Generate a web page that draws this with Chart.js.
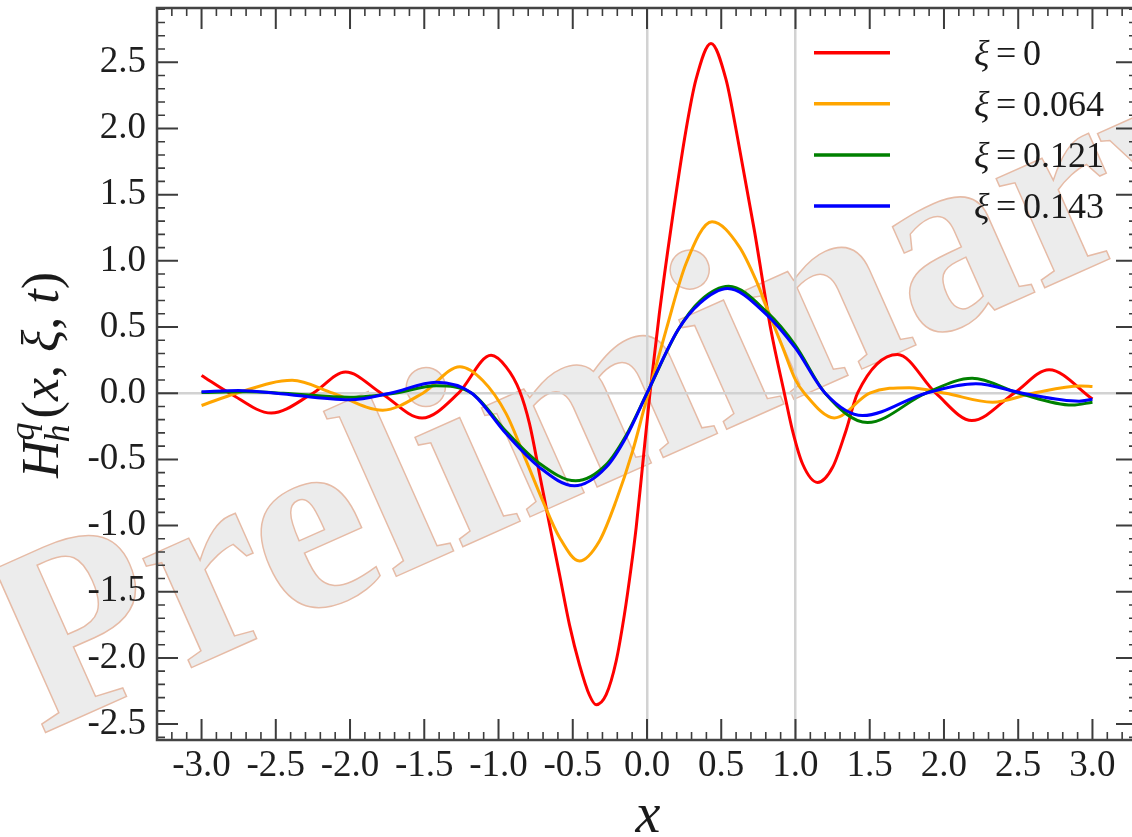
<!DOCTYPE html>
<html>
<head>
<meta charset="utf-8">
<script src="https://cdn.jsdelivr.net/npm/chart.js@4/dist/chart.umd.min.js"></script>
<style>
  html, body { margin: 0; padding: 0; overflow: hidden; background: #fff; }
  canvas { display: block; }
</style>
</head>
<body>
<canvas id="gpdChart" width="1140" height="837"></canvas>
<script>
// values, [x, H] pairs
const xi0 = [[-3.0,0.134],[-2.81,0],[-2.53,-0.15],[-2.25,0],[-2.03,0.16],[-1.79,0],[-1.515,-0.188],[-1.27,0],
  [-1.05,0.286],[-0.948,0.197],[-0.859,0.02],[-0.791,-0.232],[-0.724,-0.61],[-0.657,-0.99],[-0.589,-1.37],
  [-0.522,-1.75],[-0.455,-2.05],[-0.388,-2.28],[-0.343,-2.353],[-0.275,-2.277],[-0.208,-2.025],
  [-0.152,-1.671],[-0.107,-1.318],[-0.073,-1.015],[-0.04,-0.66],[0.02,0],[0.083,0.6],[0.162,1.25],
  [0.263,1.99],[0.33,2.37],[0.431,2.642],[0.532,2.37],[0.6,1.99],[0.723,1.23],[0.835,0.475],[0.925,0],
  [0.98,-0.283],[1.048,-0.535],[1.149,-0.674],[1.25,-0.56],[1.34,-0.283],[1.418,0],
  [1.687,0.293],[1.945,0],[2.188,-0.207],[2.472,0],[2.708,0.177],[3.0,-0.043]];
const xi064 = [[-3.0,-0.093],[-2.765,0],[-2.39,0.097],[-2.115,0],[-1.78,-0.128],[-1.51,0],[-1.26,0.2],
  [-1.106,0.096],[-0.948,-0.156],[-0.814,-0.51],[-0.702,-0.813],[-0.589,-1.09],[-0.455,-1.267],
  [-0.32,-1.116],[-0.208,-0.813],[-0.096,-0.434],[-0.017,-0.106],[0.128,0.475],[0.263,0.98],[0.438,1.295],
  [0.622,1.106],[0.734,0.854],[0.823,0.60],[0.913,0.348],[1.0,0.1],[1.06,0],[1.261,-0.187],[1.5,0],
  [1.766,0.042],[2.01,0],[2.326,-0.068],[2.6,0],[2.92,0.055],[3.0,0.05]];
const xi121 = [[-3.0,0.005],[-2.7,0.01],[-2.45,0],[-2.0,-0.03],[-1.7,0],[-1.42,0.056],[-1.18,0],[-0.948,-0.29],
  [-0.724,-0.53],[-0.48,-0.662],[-0.275,-0.54],[-0.141,-0.32],[0.0,0],[0.21,0.48],[0.36,0.70],[0.55,0.808],
  [0.81,0.61],[1.0,0.36],[1.2,0],[1.485,-0.222],[1.878,0],[2.19,0.113],[2.506,0],[2.865,-0.09],[3.0,-0.068]];
const xi143 = [[-3.0,0.01],[-2.75,0.02],[-2.5,0],[-2.0,-0.05],[-1.73,0],[-1.42,0.083],[-1.18,0],[-0.948,-0.307],
  [-0.724,-0.56],[-0.489,-0.70],[-0.275,-0.56],[-0.141,-0.333],[0.0,0],[0.207,0.475],[0.353,0.677],
  [0.543,0.791],[0.80,0.60],[1.0,0.34],[1.2,0],[1.452,-0.169],[1.878,0],[2.215,0.071],[2.53,0],
  [2.91,-0.06],[3.0,-0.045]];

const seriesLabels = ['ξ = 0', 'ξ = 0.064', 'ξ = 0.121', 'ξ = 0.143'];
const seriesColors = ['#ff0000', '#ffa500', '#008000', '#0000ff'];
const xTicks = [-3.0, -2.5, -2.0, -1.5, -1.0, -0.5, 0.0, 0.5, 1.0, 1.5, 2.0, 2.5, 3.0];
const yTicks = [-2.5, -2.0, -1.5, -1.0, -0.5, 0.0, 0.5, 1.0, 1.5, 2.0, 2.5];

const SERIF = '"Liberation Serif", "Times New Roman", serif';

// watermark behind everything
const watermark = {
  id: 'watermark',
  beforeDraw(chart) {
    const ctx = chart.ctx;
    ctx.save();
    ctx.fillStyle = '#fff';
    ctx.fillRect(0, 0, chart.width, chart.height);
    ctx.translate(40, 735);
    ctx.rotate(-24 * Math.PI / 180);
    ctx.font = 'bold 260px ' + SERIF;
    ctx.textBaseline = 'alphabetic';
    ctx.fillStyle = '#ececec';
    ctx.fillText('Preliminary', 0, 0);
    ctx.strokeStyle = '#e6bba6';
    ctx.lineWidth = 1.5;
    ctx.strokeText('Preliminary', 0, 0);
    ctx.restore();
  }
};

// frame, inward ticks, legend, axis titles
const decorations = {
  id: 'decorations',
  afterDraw(chart) {
    const ctx = chart.ctx;
    const a = chart.chartArea;
    const xs = chart.scales.x, ys = chart.scales.y;
    ctx.save();
    ctx.strokeStyle = '#3c3c3c';
    // minor + major ticks on all four sides
    for (let k = -33; k <= 33; k++) {
      const px = xs.getPixelForValue(k / 10);
      const len = k % 5 === 0 ? 21 : 8;
      ctx.lineWidth = k % 5 === 0 ? 2 : 1.6;
      ctx.beginPath();
      ctx.moveTo(px, a.bottom); ctx.lineTo(px, a.bottom - len);
      ctx.moveTo(px, a.top); ctx.lineTo(px, a.top + len);
      ctx.stroke();
    }
    for (let k = -26; k <= 29; k++) {
      const py = ys.getPixelForValue(k / 10);
      const len = k % 5 === 0 ? 21 : 8;
      ctx.lineWidth = k % 5 === 0 ? 2 : 1.6;
      ctx.beginPath();
      ctx.moveTo(a.left, py); ctx.lineTo(a.left + len, py);
      ctx.moveTo(a.right, py); ctx.lineTo(a.right - len, py);
      ctx.stroke();
    }
    ctx.lineWidth = 2.5;
    ctx.strokeStyle = '#444';
    ctx.strokeRect(a.left, a.top, a.right - a.left, a.bottom - a.top);

    // legend
    ctx.textBaseline = 'middle';
    ctx.fillStyle = '#1a1a1a';
    chart.data.datasets.forEach((ds, i) => {
      const y = 52.7 + 51.1 * i;
      ctx.strokeStyle = ds.borderColor;
      ctx.lineWidth = 3.5;
      ctx.beginPath();
      ctx.moveTo(814, y); ctx.lineTo(890, y);
      ctx.stroke();
      const parts = ds.label.split(' = ');
      ctx.font = 'italic 36px ' + SERIF;
      ctx.fillText(parts[0], 974, y + 3);
      ctx.font = '36px ' + SERIF;
      ctx.fillText('=', 996, y + 3);
      ctx.fillText(parts[1], 1023, y + 3);
    });

    // x title
    ctx.font = 'italic 56px ' + SERIF;
    ctx.textAlign = 'center';
    ctx.textBaseline = 'alphabetic';
    ctx.fillText('x', 648, 832);

    // y title H_h^q(x, ξ, t)
    ctx.translate(40, 375);
    ctx.rotate(-Math.PI / 2);
    ctx.textAlign = 'left';
    const big = 52, small = 36;
    const it = s => 'italic ' + s + 'px ' + SERIF;
    const up = s => s + 'px ' + SERIF;
    const pieces = [
      { t: 'H', f: it(big) },
      { script: true },
      { t: '(', f: up(big) }, { t: 'x', f: it(big) }, { t: ', ', f: up(big) },
      { t: 'ξ', f: it(big) }, { t: ', ', f: up(big) }, { t: 't', f: it(big) }, { t: ')', f: up(big) }
    ];
    let total = 0;
    pieces.forEach(p => {
      if (p.script) {
        ctx.font = it(small);
        p.w = Math.max(ctx.measureText('h').width, ctx.measureText('q').width) + 4;
      } else {
        ctx.font = p.f;
        p.w = ctx.measureText(p.t).width;
      }
      total += p.w;
    });
    let cx = -total / 2;
    const base = 18;
    pieces.forEach(p => {
      if (p.script) {
        ctx.font = it(small);
        ctx.fillText('q', cx, base - 24);
        ctx.fillText('h', cx - 2, base + 11);
      } else {
        ctx.font = p.f;
        ctx.fillText(p.t, cx, base);
      }
      cx += p.w;
    });
    ctx.restore();
  }
};

const ctx = document.getElementById('gpdChart').getContext('2d');
const gpdChart = new Chart(ctx, {
  type: 'line',
  data: {
    datasets: [xi0, xi064, xi121, xi143].map((pts, i) => ({
      label: seriesLabels[i],
      data: pts.map(([x, y]) => ({ x: x, y: y })),
      borderColor: seriesColors[i],
      borderWidth: 3,
      pointRadius: 0,
      fill: false,
      cubicInterpolationMode: 'monotone',
      order: 3 - i
    }))
  },
  options: {
    responsive: false,
    animation: false,
    layout: { padding: { top: 8, right: 3, left: 0, bottom: 0 } },
    plugins: { legend: { display: false }, tooltip: { enabled: false } },
    scales: {
      x: {
        type: 'linear',
        min: -3.3,
        max: 3.3,
        afterBuildTicks: scale => { scale.ticks = xTicks.map(v => ({ value: v })); },
        afterFit: scale => { scale.height = 97; scale.paddingLeft = 0; scale.paddingRight = 0; },
        border: { display: false },
        grid: {
          drawTicks: false,
          lineWidth: 2.5,
          color: c => (c.tick && (c.tick.value === 0 || c.tick.value === 1)) ? '#d2d2d2' : 'rgba(0,0,0,0)'
        },
        ticks: {
          autoSkip: false,
          maxRotation: 0,
          padding: 4,
          color: '#1e1e1e',
          font: { family: SERIF, size: 37 },
          callback: v => v.toFixed(1)
        }
      },
      y: {
        min: -2.62,
        max: 2.91,
        afterBuildTicks: scale => { scale.ticks = yTicks.map(v => ({ value: v })); },
        afterFit: scale => { scale.width = 157; scale.paddingTop = 0; scale.paddingBottom = 0; },
        border: { display: false },
        grid: {
          drawTicks: false,
          lineWidth: 2.5,
          color: c => (c.tick && c.tick.value === 0) ? '#d2d2d2' : 'rgba(0,0,0,0)'
        },
        ticks: {
          padding: 11,
          color: '#1e1e1e',
          font: { family: SERIF, size: 37 },
          callback: v => v.toFixed(1)
        }
      }
    }
  },
  plugins: [watermark, decorations]
});
</script>
</body>
</html>
